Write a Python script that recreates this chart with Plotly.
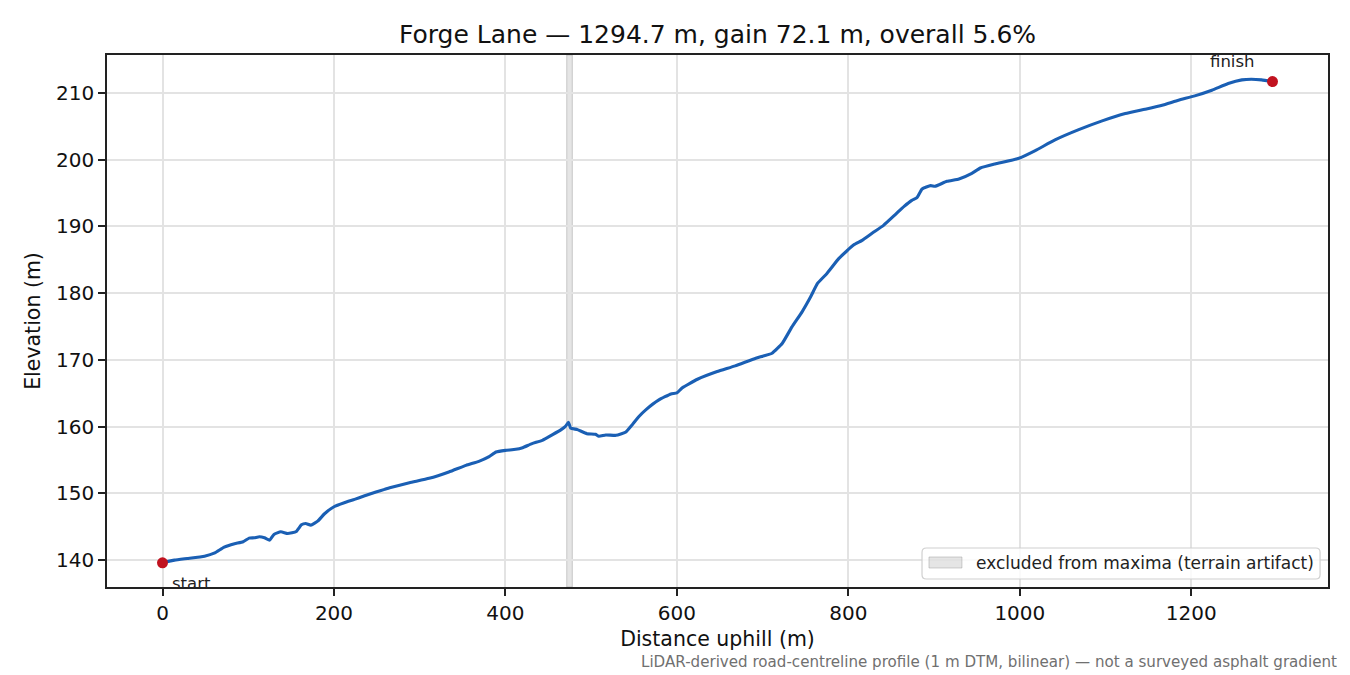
import plotly.graph_objects as go

# ---- data -------------------------------------------------------------
distance_m = [0, 14, 29, 49, 61, 72, 84, 94, 101, 107, 113, 119, 125, 130, 138, 146,
              156, 162, 167, 173, 181, 189, 200, 212, 224, 235, 249, 259, 265, 288,
              311, 334, 354, 369, 381, 389, 400, 412, 420, 431, 443, 455, 465, 470,
              473.5, 476, 484, 495, 505, 509, 517, 529, 540, 548, 556, 564, 579, 593,
              600, 606, 624, 647, 668, 692, 711, 723, 734, 746, 756, 764, 775, 789,
              806, 816, 828, 841, 855, 865, 874, 880, 886, 896, 901, 915, 929, 944,
              954, 971, 999, 1018, 1041, 1068, 1096, 1123, 1146, 1166, 1185, 1204,
              1224, 1243, 1259, 1270, 1282, 1294.7]
elevation_m = [139.6, 140.0, 140.25, 140.6, 141.1, 141.95, 142.45, 142.75, 143.3, 143.35,
               143.5, 143.35, 143.0, 143.85, 144.25, 144.0, 144.3, 145.3, 145.5, 145.25,
               145.85, 146.95, 148.0, 148.6, 149.1, 149.6, 150.2, 150.6, 150.85, 151.6,
               152.25, 153.2, 154.2, 154.8, 155.5, 156.2, 156.45, 156.6, 156.85, 157.45,
               157.95, 158.8, 159.55, 160.05, 160.65, 159.8, 159.55, 158.95, 158.85,
               158.55, 158.75, 158.7, 159.15, 160.3, 161.55, 162.55, 164.0, 164.9, 165.05,
               165.8, 167.1, 168.25, 169.1, 170.25, 171.0, 172.5, 174.9, 177.2, 179.45,
               181.45, 182.95, 185.2, 187.2, 187.9, 189.0, 190.15, 191.8, 193.0, 193.9,
               194.3, 195.6, 196.1, 196.0, 196.75, 197.1, 197.95, 198.75, 199.35, 200.2,
               201.35, 202.95, 204.45, 205.8, 206.9, 207.55, 208.15, 208.9, 209.55,
               210.4, 211.4, 211.95, 212.05, 211.95, 211.7]

excluded_start_m = 471.5
excluded_end_m = 478.0

x_ticks = [0, 200, 400, 600, 800, 1000, 1200]
y_ticks = [140, 150, 160, 170, 180, 190, 200, 210]

title_text = "Forge Lane — 1294.7 m, gain 72.1 m, overall 5.6%"
x_label = "Distance uphill (m)"
y_label = "Elevation (m)"
legend_label = "excluded from maxima (terrain artifact)"
footnote = "LiDAR-derived road-centreline profile (1 m DTM, bilinear) — not a surveyed asphalt gradient"

# ---- figure -----------------------------------------------------------
FONT = "DejaVu Sans, Liberation Sans, sans-serif"
LINE = "#1a5fb4"
DOT = "#c1121f"
BAND_FILL = "rgba(150,150,150,0.25)"
BAND_EDGE = "rgba(150,150,150,0.45)"

xmin, xmax = min(distance_m), max(distance_m)
ymin, ymax = min(elevation_m), max(elevation_m)
xpad = 0.05 * (xmax - xmin)
ypad = 0.05 * (ymax - ymin)

fig = go.Figure()

# excluded band
fig.add_shape(type="rect", xref="x", yref="y domain",
              x0=excluded_start_m, x1=excluded_end_m, y0=0, y1=1,
              fillcolor=BAND_FILL, line=dict(color=BAND_EDGE, width=1),
              layer="below")

fig.add_trace(go.Scatter(
    x=distance_m, y=elevation_m, mode="lines",
    line=dict(color=LINE, width=3.1, shape="spline", smoothing=0.4),
    showlegend=False, hoverinfo="skip"))

fig.add_trace(go.Scatter(
    x=[distance_m[0], distance_m[-1]], y=[elevation_m[0], elevation_m[-1]],
    mode="markers", marker=dict(color=DOT, size=11),
    showlegend=False, hoverinfo="skip"))

fig.add_annotation(x=distance_m[0], y=elevation_m[0], text="start",
                   showarrow=False, xanchor="left", yanchor="top",
                   xshift=7, yshift=-9,
                   font=dict(family=FONT, size=16.5, color="#222222"))
fig.add_annotation(x=distance_m[-1], y=elevation_m[-1], text="finish",
                   showarrow=False, xanchor="right", yanchor="bottom",
                   xshift=-16, yshift=9,
                   font=dict(family=FONT, size=16.5, color="#222222"))

fig.add_annotation(xref="paper", yref="paper", x=1.009, y=-0.121,
                   xanchor="right", yanchor="top", showarrow=False,
                   text=footnote,
                   font=dict(family=FONT, size=15.1, color="#707070"))

# ---- hand-drawn legend box (lower right, inside axes) ----
lx0, lx1, ly0, ly1 = 0.6675, 0.9935, 0.015, 0.0733
rx, ry = 0.0035, 0.0080
legend_path = (
    f"M {lx0+rx},{ly0} L {lx1-rx},{ly0} Q {lx1},{ly0} {lx1},{ly0+ry} "
    f"L {lx1},{ly1-ry} Q {lx1},{ly1} {lx1-rx},{ly1} "
    f"L {lx0+rx},{ly1} Q {lx0},{ly1} {lx0},{ly1-ry} "
    f"L {lx0},{ly0+ry} Q {lx0},{ly0} {lx0+rx},{ly0} Z")
fig.add_shape(type="path", xref="paper", yref="paper", path=legend_path,
              fillcolor="rgba(255,255,255,0.8)",
              line=dict(color="#d0d0d0", width=1.2), layer="above")
fig.add_shape(type="rect", xref="paper", yref="paper",
              x0=0.6732, x1=0.7002, y0=0.0357, y1=0.0564,
              fillcolor=BAND_FILL, line=dict(color=BAND_EDGE, width=1),
              layer="above")
fig.add_annotation(xref="paper", yref="paper", x=0.7102, y=0.0451,
                   xanchor="left", yanchor="middle", showarrow=False,
                   text=legend_label,
                   font=dict(family=FONT, size=17, color="#222222"))

axis_common = dict(
    showline=True, linecolor="#222222", linewidth=1.7, mirror=True,
    ticks="outside", ticklen=7, tickwidth=1.6, tickcolor="#222222",
    showgrid=True, gridcolor="#e3e3e3", gridwidth=1.5,
    zeroline=False,
    tickfont=dict(family=FONT, size=20, color="#111111"),
)

fig.update_layout(
    width=1350, height=675,
    margin=dict(l=107, r=22, t=55, b=88),
    paper_bgcolor="white", plot_bgcolor="white",
    showlegend=False,
    font=dict(family=FONT, color="#111111"),
    title=dict(text=title_text, x=0.5315, xanchor="center",
               y=1 - 34 / 675, yanchor="middle", yref="container",
               font=dict(family=FONT, size=25, color="#111111")),
    xaxis=dict(range=[xmin - xpad, xmax + xpad], tickvals=x_ticks,
               ticktext=[str(t) for t in x_ticks],
               title=dict(text=x_label, standoff=8,
                          font=dict(family=FONT, size=20.5, color="#111111")),
               **axis_common),
    yaxis=dict(range=[ymin - ypad, ymax + ypad], tickvals=y_ticks,
               ticktext=[str(t) for t in y_ticks],
               title=dict(text=y_label, standoff=10,
                          font=dict(family=FONT, size=20.5, color="#111111")),
               **axis_common),
)

fig.write_html("out.html",
               config={"displayModeBar": False},
               post_script="document.body.style.margin='0px';"
                           "document.body.style.overflow='hidden';")
